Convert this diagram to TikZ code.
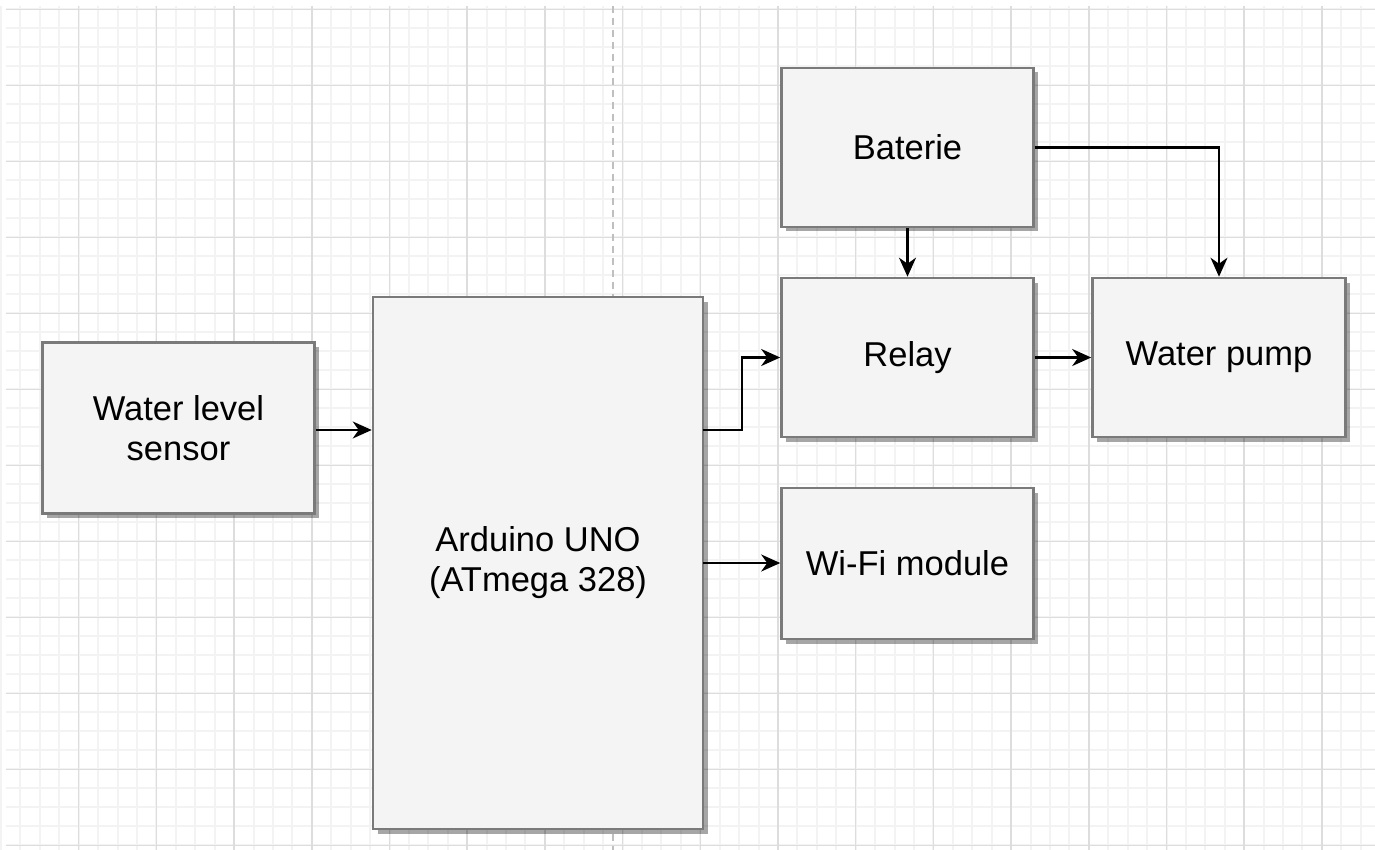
\documentclass[tikz,border=0pt]{standalone}
\usepackage{fontspec}
\setmainfont{Liberation Sans}
\usetikzlibrary{shadows,arrows.meta}
\definecolor{minorgrid}{HTML}{F3F3F3}
\definecolor{majorgrid}{HTML}{DDDDDD}
\definecolor{boxfill}{HTML}{F4F4F4}
\definecolor{boxline}{HTML}{7A7A7A}
\tikzset{
  blk/.style={draw=boxline, line width=2.6pt, fill=boxfill, inner sep=0pt,
    font=\fontsize{34.5}{40}\selectfont, align=center, text=black,
    drop shadow={shadow xshift=4.5pt, shadow yshift=-4.5pt, fill=black, opacity=0.35}},
  conn/.style={draw=black, line width=2.2pt, -{Stealth[length=19pt,width=17pt,inset=6pt]}}
}
\begin{document}
\begin{tikzpicture}[x=1pt,y=-1pt]
\useasboundingbox (0,0) rectangle (1375,850);
\fill[white] (0,0) rectangle (1375,850);
% minor grid
\foreach \k in {0,...,70} {
  \draw[minorgrid, line width=2pt] ({1+19.425*\k},6) -- ({1+19.425*\k},850);
}
\foreach \k in {0,...,44} {
  \draw[minorgrid, line width=2pt] (6,{9.3+19*\k}) -- (1375,{9.3+19*\k});
}
% major grid
\foreach \k in {1,...,17} {
  \draw[majorgrid, line width=1.5pt] ({1+77.7*\k},6) -- ({1+77.7*\k},850);
}
\foreach \k in {0,...,11} {
  \draw[majorgrid, line width=1.5pt] (6,{9.3+76*\k}) -- (1375,{9.3+76*\k});
}
% page break dashed line
\draw[color=black!25, line width=2pt, dash pattern=on 7pt off 5pt] (613,6) -- (613,850);

% blocks
\node[blk, minimum width=272pt, minimum height=171pt] (sensor) at (178.5,428) {Water level\\sensor};
\node[blk, minimum width=330pt, minimum height=532pt] (arduino) at (538,563) {Arduino UNO\\(ATmega 328)};
\node[blk, minimum width=252pt, minimum height=159pt] (bat) at (907.5,147.5) {Baterie};
\node[blk, minimum width=252pt, minimum height=159pt] (relay) at (907.5,357.5) {Relay};
\node[blk, minimum width=253pt, minimum height=159pt] (pump) at (1219,357.5) {Water pump};
\node[blk, minimum width=252pt, minimum height=151pt] (wifi) at (907.5,563.5) {Wi-Fi module};

\coordinate (a1) at (703,430);
\coordinate (a2) at (703,563);
% connectors
\draw[conn] (sensor.east |- a1) -- (arduino.west |- a1);
\draw[conn] (a1) -- (742,430) -- (742,357.5) -- (relay.west);
\draw[conn] (a2) -- (wifi.west |- a2);
\draw[conn] (bat.south) -- (relay.north);
\draw[conn] (bat.east) -| (pump.north);
\draw[conn] (relay.east) -- (pump.west);
\end{tikzpicture}
\end{document}
